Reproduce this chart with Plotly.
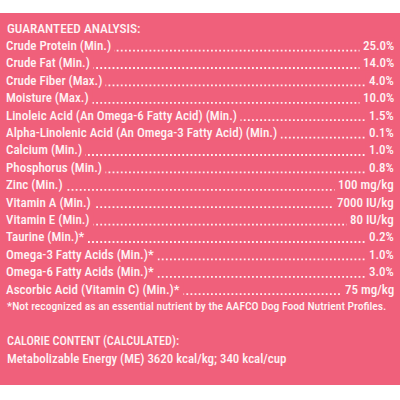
import plotly.graph_objects as go

# guaranteed analysis rows
nutrients = [
    "Crude Protein (Min.)",
    "Crude Fat (Min.)",
    "Crude Fiber (Max.)",
    "Moisture (Max.)",
    "Linoleic Acid (An Omega-6 Fatty Acid) (Min.)",
    "Alpha-Linolenic Acid (An Omega-3 Fatty Acid) (Min.)",
    "Calcium (Min.)",
    "Phosphorus (Min.)",
    "Zinc (Min.)",
    "Vitamin A (Min.)",
    "Vitamin E (Min.)",
    "Taurine (Min.)*",
    "Omega-3 Fatty Acids (Min.)*",
    "Omega-6 Fatty Acids (Min.)*",
    "Ascorbic Acid (Vitamin C) (Min.)*",
]
amounts = [
    "25.0%", "14.0%", "4.0%", "10.0%", "1.5%", "0.1%", "1.0%", "0.8%",
    "100 mg/kg", "7000 IU/kg", "80 IU/kg", "0.2%", "1.0%", "3.0%", "75 mg/kg",
]
header = "GUARANTEED ANALYSIS:"
footnote = "*Not recognized as an essential nutrient by the AAFCO Dog Food Nutrient Profiles."
calorie_header = "CALORIE CONTENT (CALCULATED):"
calorie_line = "Metabolizable Energy (ME) 3620 kcal/kg; 340 kcal/cup"

PINK = "#F0607B"
TXT = "#FFF2F4"
FONT = "Roboto Condensed, Liberation Sans Narrow, Arial Narrow, Liberation Sans"
FS = 13.0
NB = "\u00a0"  # small gap between text and dot leaders

rows = list(range(1, len(nutrients) + 1))
foot_row = len(nutrients) + 1
cal_row = foot_row + 2

fig = go.Figure()

# dotted leaders, one segment per nutrient row (labels cover the ends)
lx, ly = [], []
for r in rows:
    lx += [6, 394, None]
    ly += [r + 0.3, r + 0.3, None]
fig.add_trace(go.Scatter(x=lx, y=ly, mode="lines", hoverinfo="skip",
                         line=dict(color=TXT, width=1.8, dash="1.8px,2.3px")))

font = dict(family=FONT, size=FS, color=TXT, weight=500)
for r, name, amt in zip(rows, nutrients, amounts):
    fig.add_annotation(x=5, y=r, text=name + NB, xanchor="left", yanchor="middle",
                       showarrow=False, font=font, bgcolor=PINK, borderpad=0)
    fig.add_annotation(x=395, y=r, text=NB + amt, xanchor="right", yanchor="middle",
                       showarrow=False, font=font, bgcolor=PINK, borderpad=0)

for r, t, fs in [(0, header, 13.3), (foot_row, footnote, 11.6),
                 (cal_row, calorie_header, 12.2), (cal_row + 1, calorie_line, 12.9)]:
    fig.add_annotation(x=5, y=r, text=t, xanchor="left", yanchor="middle",
                       showarrow=False,
                       font=dict(family=FONT, size=fs, color=TXT, weight=500))

fig.add_shape(type="rect", xref="paper", yref="paper", x0=0, x1=1,
              y0=1 - 385 / 400, y1=1 - 13 / 400, fillcolor=PINK,
              line=dict(width=0), layer="below")

fig.update_layout(
    width=400, height=400,
    margin=dict(l=0, r=0, t=0, b=0),
    paper_bgcolor="white", plot_bgcolor="rgba(0,0,0,0)",
    showlegend=False,
    xaxis=dict(range=[0, 400], visible=False, fixedrange=True),
    yaxis=dict(range=[(400 - 28) / 17.4, -28 / 17.4], visible=False,
               fixedrange=True),
)

fig.write_html("out.html", config={"displayModeBar": False},
               post_script="document.body.style.margin='0';")
